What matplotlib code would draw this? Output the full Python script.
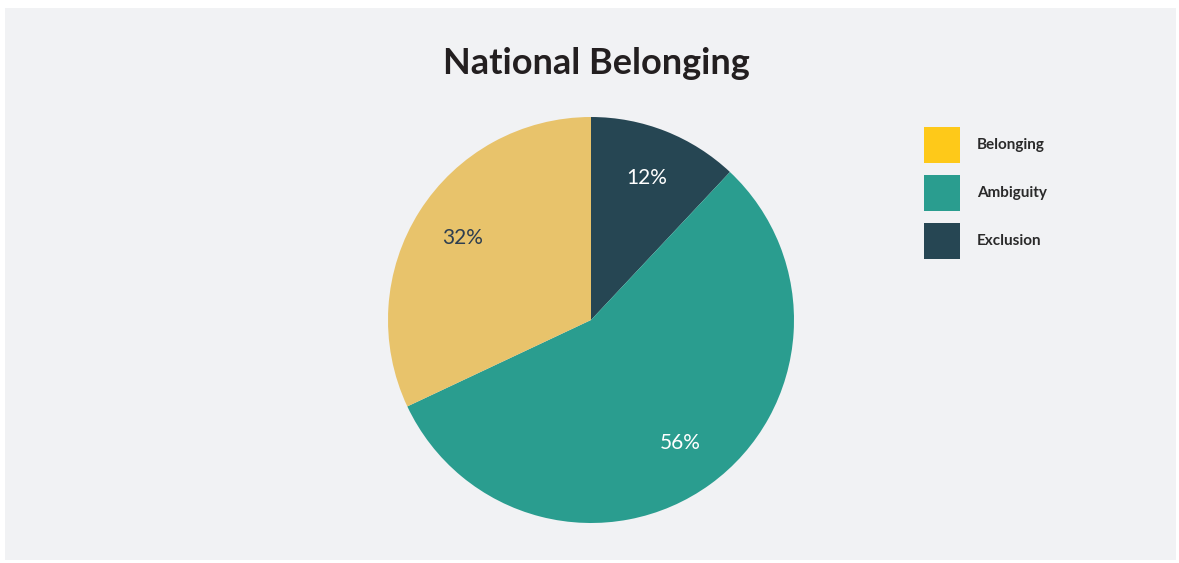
import matplotlib
matplotlib.use("Agg")
import matplotlib.pyplot as plt
from matplotlib.patches import Rectangle, Patch

categories = ["Belonging", "Ambiguity", "Exclusion"]
values = [32, 56, 12]
pie_colors = ["#E8C36B", "#2A9D8F", "#264653"]
legend_colors = ["#FEC919", "#2A9D8F", "#264653"]
label_colors = ["#2D3E50", "#FFFFFF", "#FFFFFF"]
title = "National Belonging"

W, H = 1179, 563
fig = plt.figure(figsize=(W / 100, H / 100), dpi=100)
fig.patch.set_facecolor("white")
fig.patches.append(Rectangle((5 / W, 3 / H), 1171 / W, 552 / H,
                             transform=fig.transFigure, facecolor="#F1F2F4",
                             edgecolor="none", zorder=-10))

cx, cy, r = 591, 563 - 320, 203
ax = fig.add_axes([(cx - r) / W, (cy - r) / H, 2 * r / W, 2 * r / H])
ax.set_zorder(5)
ax.set_facecolor("none")

# Draw clockwise from 12 o'clock: Exclusion, Ambiguity, Belonging
order = [2, 1, 0]
wedges, texts, autotexts = ax.pie(
    [values[i] for i in order],
    colors=[pie_colors[i] for i in order],
    startangle=90, counterclock=False, radius=1,
    autopct=lambda p: f"{p:.0f}%", pctdistance=0.75,
    wedgeprops=dict(linewidth=0, edgecolor="none"),
    textprops=dict(fontsize=15, family="Lato"))
for t, i in zip(autotexts, order):
    t.set_color(label_colors[i])
ax.set_xlim(-1, 1)
ax.set_ylim(-1, 1)
ax.set_aspect("equal")
ax.axis("off")

fig.text(596 / W, 1 - 64 / H, title, ha="center", va="center",
         fontsize=26, fontweight="bold", family="Lato", color="#231F20")

handles = [Patch(facecolor=c, edgecolor="none") for c in legend_colors]
leg = fig.legend(handles, categories, loc="upper left",
                 bbox_to_anchor=(919 / W, 1 - 122 / H),
                 frameon=False, handlelength=2.36,
                 handleheight=3.25, labelspacing=0.8, handletextpad=1.15,
                 borderaxespad=0, borderpad=0.3,
                 prop=dict(family="Lato", weight="bold", size=11))
leg.set_zorder(6)
for t in leg.get_texts():
    t.set_color("#2A2A2A")

fig.savefig("out.png", dpi=100, facecolor=fig.get_facecolor())
